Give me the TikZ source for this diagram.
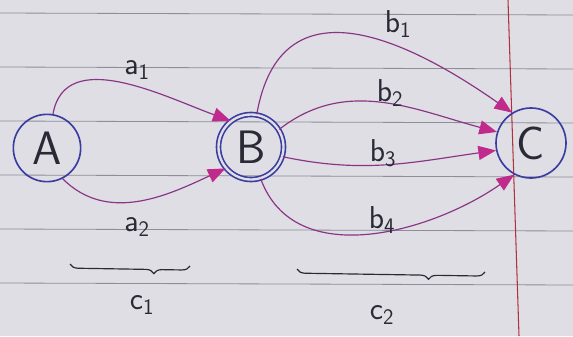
\documentclass[tikz,border=0pt]{standalone}
\usepackage{xcolor}
\usepackage{tikz}
\usetikzlibrary{arrows.meta, decorations.pathreplacing}
\definecolor{paper}{HTML}{DEDEE4}
\definecolor{rule}{HTML}{8E8E98}
\definecolor{margin}{HTML}{B03040}
\definecolor{ink}{HTML}{3A3CA0}
\definecolor{pen}{HTML}{8A3486}
\definecolor{tip}{HTML}{C02A8C}
\definecolor{pencil}{HTML}{2A2A36}

\begin{document}
\begin{tikzpicture}[x=0.03cm, y=-0.03cm,
  state/.style={circle, draw=ink, line width=1.4pt, minimum size=#1, inner sep=0pt, font=\fontsize{40}{42}\sffamily, text=pencil},
  state/.default=2cm,
  trans/.style={draw=pen, line width=1pt, -{Triangle[length=15pt, width=12pt, color=tip, fill=tip]}},
  lbl/.style={font=\fontsize{27}{29}\sffamily, text=pencil},
  grp/.style={draw=pencil, line width=1pt, decorate, decoration={brace, mirror, amplitude=7pt, aspect=0.7}}
]
\useasboundingbox (0,0) rectangle (573,336);
% paper
\fill[paper] (0,0) rectangle (573,336);
\foreach \y in {13,67,121,175,229,283}
  \draw[rule, line width=0.7pt] (0,\y) -- (573,\y+2);
\draw[margin, line width=0.9pt] (508,0) -- (519,336);

% states
\node[state=2.02cm] (A) at (47,148) {A};
\node[state=1.95cm, double=paper, double distance=2pt] (B) at (251,147) {B};
\node[state=2.1cm] (C) at (531,143) {C};

% transitions
\draw[trans] (A.80) to[out=80, in=160] (B.128);
\draw[trans] (A.-63) to[out=-45, in=-155] (B.-140);
\draw[trans] (B.80) to[out=80, in=145, looseness=1.35] (C.122);
\draw[trans] (B.32) to[out=38, in=165] (C.162);
\draw[trans] (B.-17) to[out=-12, in=188] (C.-168);
\draw[trans] (B.-73) to[out=-70, in=-145] (C.-118);

% labels
\node[lbl] (a1) at (137,70) {a\textsubscript{1}};
\node[lbl] (a2) at (137,227) {a\textsubscript{2}};
\node[lbl] (b1) at (398,24) {b\textsubscript{1}};
\node[lbl] (b2) at (390,93) {b\textsubscript{2}};
\node[lbl] (b3) at (383,153) {b\textsubscript{3}};
\node[lbl] (b4) at (382,220) {b\textsubscript{4}};

% groups
\coordinate (c1l) at (70,264);
\coordinate (c1r) at (190,266);
\coordinate (c2l) at (297,269);
\coordinate (c2r) at (485,272);
\draw[grp] (c1l) -- (c1r);
\draw[grp] (c2l) -- (c2r);
\node[lbl] (c1) at (142,305) {c\textsubscript{1}};
\node[lbl] (c2) at (382,315) {c\textsubscript{2}};
\end{tikzpicture}
\end{document}
